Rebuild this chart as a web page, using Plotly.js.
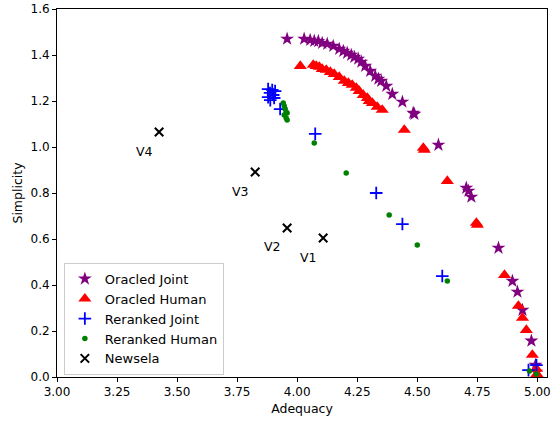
<!DOCTYPE html>
<html>
<head>
<meta charset="utf-8">
<script src="https://cdn.plot.ly/plotly-3.0.1.min.js"></script>
<style>html,body{margin:0;padding:0;background:#fff;}#chart{width:557px;height:421px;}</style>
</head>
<body>
<div id="chart"></div>
<script>
// Oracled Joint
const ojX = [3.958, 4.029, 4.054, 4.071, 4.088, 4.104, 4.125, 4.150, 4.175, 4.192, 4.208, 4.225, 4.238, 4.254, 4.267, 4.283, 4.304, 4.325, 4.338, 4.350, 4.371, 4.396, 4.438, 4.483, 4.488, 4.588, 4.704, 4.713, 4.725, 4.838, 4.896, 4.917, 4.938, 4.975, 4.992, 4.996];
const ojY = [1.470, 1.470, 1.465, 1.461, 1.460, 1.452, 1.448, 1.439, 1.426, 1.417, 1.409, 1.400, 1.391, 1.383, 1.370, 1.352, 1.330, 1.309, 1.296, 1.287, 1.265, 1.230, 1.196, 1.148, 1.143, 1.009, 0.822, 0.809, 0.783, 0.561, 0.417, 0.370, 0.291, 0.157, 0.052, 0.022];
// Oracled Human
const ohX = [4.013, 4.067, 4.079, 4.092, 4.104, 4.121, 4.138, 4.154, 4.175, 4.196, 4.213, 4.229, 4.246, 4.258, 4.275, 4.292, 4.300, 4.313, 4.333, 4.354, 4.446, 4.525, 4.529, 4.625, 4.746, 4.750, 4.863, 4.921, 4.938, 4.954, 4.979, 4.996, 4.998];
const ohY = [1.352, 1.357, 1.352, 1.348, 1.339, 1.335, 1.326, 1.317, 1.304, 1.287, 1.278, 1.270, 1.257, 1.243, 1.226, 1.213, 1.200, 1.191, 1.174, 1.161, 1.074, 0.996, 0.987, 0.852, 0.670, 0.661, 0.443, 0.309, 0.257, 0.204, 0.096, 0.035, 0.013];
// Reranked Joint
const rjX = [3.879, 3.896, 3.908, 3.887, 3.900, 3.879, 3.904, 3.888, 3.929, 4.075, 4.329, 4.438, 4.604, 4.963, 4.996];
const rjY = [1.252, 1.248, 1.243, 1.235, 1.226, 1.217, 1.213, 1.204, 1.165, 1.057, 0.800, 0.665, 0.439, 0.030, 0.052];
// Reranked Human
const rhX = [3.942, 3.946, 3.950, 3.954, 3.946, 3.958, 3.954, 3.958, 4.071, 4.204, 4.383, 4.500, 4.625, 4.967, 4.996];
const rhY = [1.191, 1.178, 1.165, 1.152, 1.139, 1.148, 1.126, 1.117, 1.017, 0.887, 0.704, 0.574, 0.417, 0.026, 0.013];
// Newsela
const nwX = [4.108, 3.958, 3.825, 3.425];
const nwY = [0.604, 0.648, 0.891, 1.065];
const nwLabels = ["V1", "V2", "V3", "V4"];

const xTicks = [3.00, 3.25, 3.50, 3.75, 4.00, 4.25, 4.50, 4.75, 5.00];
const yTicks = [0.0, 0.2, 0.4, 0.6, 0.8, 1.0, 1.2, 1.4, 1.6];

const font = "DejaVu Sans, sans-serif";

const traces = [
  {x: ojX, y: ojY, name: "Oracled Joint", mode: "markers", type: "scatter",
   marker: {symbol: "star", size: 10.5, color: "#800080"}},
  {x: ohX, y: ohY, name: "Oracled Human", mode: "markers", type: "scatter",
   marker: {symbol: "triangle-up", size: 11.5, color: "#ff0000"}},
  {x: rjX, y: rjY, name: "Reranked Joint", mode: "markers", type: "scatter",
   marker: {symbol: "cross-thin", size: 9, color: "#0000ff", line: {color: "#0000ff", width: 1.8}}},
  {x: rhX, y: rhY, name: "Reranked Human", mode: "markers", type: "scatter",
   marker: {symbol: "circle", size: 5.5, color: "#008000"}},
  {x: nwX, y: nwY, name: "Newsela", mode: "markers", type: "scatter",
   marker: {symbol: "x-thin", size: 8.5, color: "#000000", line: {color: "#000000", width: 2}}}
];

const annotations = nwX.map((x, i) => ({
  x: x, y: nwY[i], xref: "x", yref: "y", text: nwLabels[i], showarrow: false,
  xshift: -15, yshift: -19, font: {family: font, size: 12.5, color: "#000"}
}));

const layout = {
  width: 557, height: 421,
  margin: {l: 57, r: 10, t: 9, b: 44},
  paper_bgcolor: "#fff", plot_bgcolor: "#fff",
  font: {family: font, size: 12, color: "#000"},
  showlegend: true,
  legend: {x: 0.014, y: 0.006, xanchor: "left", yanchor: "bottom",
    bgcolor: "rgba(255,255,255,0.8)", bordercolor: "#cccccc", borderwidth: 1,
    font: {family: font, size: 13, color: "#000"}},
  xaxis: {range: [3.0, 5.04], tickvals: xTicks, ticktext: xTicks.map(v => v.toFixed(2)),
    showgrid: false, zeroline: false, showline: true, mirror: true, linecolor: "#000", linewidth: 1,
    ticks: "outside", ticklen: 4, tickcolor: "#000", tickfont: {family: font, size: 12},
    title: {text: "Adequacy", font: {family: font, size: 12.5}, standoff: 5}},
  yaxis: {range: [0, 1.6], tickvals: yTicks, ticktext: yTicks.map(v => v.toFixed(1)),
    showgrid: false, zeroline: false, showline: true, mirror: true, linecolor: "#000", linewidth: 1,
    ticks: "outside", ticklen: 4, tickcolor: "#000", tickfont: {family: font, size: 12},
    title: {text: "Simplicity", font: {family: font, size: 12.5}, standoff: 5}},
  annotations: annotations
};

Plotly.newPlot("chart", traces, layout, {displayModeBar: false, staticPlot: true});
</script>
</body>
</html>
